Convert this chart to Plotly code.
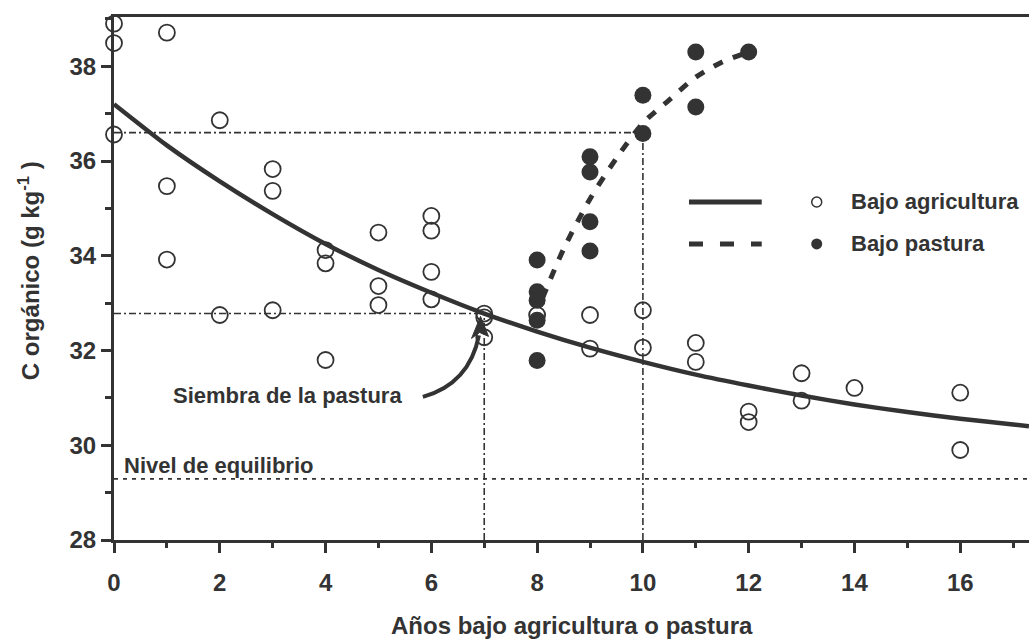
import plotly.graph_objects as go

# ---- Data: organic carbon (g/kg) vs years under cropping or pasture ----
# Bajo agricultura (open circles)
agri_x = [0, 0, 0, 1, 1, 1, 2, 2, 3, 3, 3, 4, 4, 4, 5, 5, 5,
          6, 6, 6, 6, 7, 7, 7, 8, 9, 9, 10, 10, 11, 11, 12, 12,
          13, 13, 14, 16, 16]
agri_y = [38.90, 38.49, 36.56, 38.71, 35.47, 33.92, 36.86, 32.75,
          35.83, 35.37, 32.85, 34.12, 33.84, 31.80, 34.49, 33.36, 32.96,
          34.84, 34.53, 33.66, 33.08, 32.78, 32.70, 32.28, 32.75,
          32.75, 32.04, 32.85, 32.06, 32.16, 31.76, 30.71, 30.49,
          31.52, 30.94, 31.21, 31.11, 29.90]

# Bajo pastura (filled circles)
past_x = [8, 8, 8, 8, 8, 9, 9, 9, 9, 10, 10, 11, 11, 12]
past_y = [33.91, 33.24, 33.06, 32.64, 31.79, 36.09, 35.77, 34.72, 34.10,
          37.39, 36.58, 38.30, 37.14, 38.30]

# Fitted curves
agri_fit_x = [0, 1, 2, 3, 4, 5, 6, 7, 8, 9, 10, 11, 12, 13, 14, 15, 16, 17, 17.3]
agri_fit_y = [37.20, 36.33, 35.57, 34.88, 34.25, 33.70, 33.22, 32.78, 32.40,
              32.06, 31.76, 31.49, 31.26, 31.05, 30.86, 30.70, 30.56, 30.44, 30.40]

past_fit_x = [8.1, 8.5, 9.0, 9.5, 10.0, 10.5, 11.0, 11.5, 12.0]
past_fit_y = [33.10, 34.14, 35.20, 36.06, 36.80, 37.29, 37.77, 38.09, 38.30]

# Reference levels
nivel_equilibrio = 29.29
anio_siembra, c_siembra = 7, 32.78
anio_recuperacion, c_recuperacion = 10, 36.60

x_range = [0, 17.3]
y_range = [28, 39.04]

INK = "#333333"
FONT = "Liberation Sans, Arial, Helvetica, sans-serif"

fig = go.Figure()

fig.add_trace(go.Scatter(
    x=agri_x, y=agri_y, mode="markers", cliponaxis=False,
    marker=dict(symbol="circle-open", size=16, color=INK, line=dict(width=1.8)),
    showlegend=False,
))
fig.add_trace(go.Scatter(
    x=past_x, y=past_y, mode="markers", cliponaxis=False,
    marker=dict(symbol="circle", size=17, color=INK, line=dict(width=0)),
    showlegend=False,
))
fig.add_trace(go.Scatter(
    x=agri_fit_x, y=agri_fit_y, mode="lines",
    line=dict(color=INK, width=4.5, shape="spline", smoothing=0.6),
    showlegend=False,
))
fig.add_trace(go.Scatter(
    x=past_fit_x, y=past_fit_y, mode="lines",
    line=dict(color=INK, width=5, dash="10px,11px", shape="spline", smoothing=0.8),
    showlegend=False,
))

shapes = []
thin_dashdot = dict(color=INK, width=1.6, dash="7px,3px,2px,3px")
# equilibrium level
shapes.append(dict(type="line", xref="paper", yref="y", x0=0, x1=1,
                   y0=nivel_equilibrio, y1=nivel_equilibrio,
                   line=dict(color=INK, width=1.6, dash="4px,5px")))
# guides at pasture sowing
shapes.append(dict(type="line", xref="x", yref="y", x0=0, x1=anio_siembra,
                   y0=c_siembra, y1=c_siembra, line=thin_dashdot))
shapes.append(dict(type="line", xref="x", yref="y", x0=anio_siembra, x1=anio_siembra,
                   y0=y_range[0], y1=c_siembra, line=thin_dashdot))
# guides at recovery
shapes.append(dict(type="line", xref="x", yref="y", x0=0, x1=anio_recuperacion,
                   y0=c_recuperacion, y1=c_recuperacion, line=thin_dashdot))
shapes.append(dict(type="line", xref="x", yref="y", x0=anio_recuperacion, x1=anio_recuperacion,
                   y0=y_range[0], y1=c_recuperacion, line=thin_dashdot))
# curved arrow pointing at the sowing date
shapes.append(dict(type="path", xref="x", yref="y",
                   path="M 5.84 31.02 Q 6.72 31.30 6.90 32.32",
                   line=dict(color=INK, width=4)))
shapes.append(dict(type="path", xref="x", yref="y",
                   path="M 6.93 32.72 L 6.76 32.256 L 6.911 32.382 L 7.081 32.298 Z",
                   line=dict(color=INK, width=1), fillcolor=INK))

# custom legend
leg_x0, leg_x1 = 0.6284, 0.7079
leg_mx, leg_tx = 0.768, 0.803
row1, row2 = 0.6463, 0.566
shapes.append(dict(type="line", xref="paper", yref="paper", x0=leg_x0, x1=leg_x1,
                   y0=row1, y1=row1, line=dict(color=INK, width=5)))
shapes.append(dict(type="line", xref="paper", yref="paper", x0=leg_x0, x1=leg_x1,
                   y0=row2, y1=row2, line=dict(color=INK, width=5, dash="14px,17px")))
shapes.append(dict(type="circle", xref="paper", yref="paper",
                   xsizemode="pixel", ysizemode="pixel",
                   xanchor=leg_mx, yanchor=row1, x0=-5, x1=5, y0=-5, y1=5,
                   line=dict(color=INK, width=1.5), fillcolor="rgba(0,0,0,0)"))
shapes.append(dict(type="circle", xref="paper", yref="paper",
                   xsizemode="pixel", ysizemode="pixel",
                   xanchor=leg_mx, yanchor=row2, x0=-5.5, x1=5.5, y0=-5.5, y1=5.5,
                   line=dict(color=INK, width=0), fillcolor=INK))


def txt(size):
    return dict(family=FONT, size=size, color=INK, weight="bold")


annotations = [
    dict(text="C orgánico (g kg<sup>-1</sup> )", textangle=-90, xref="paper", yref="paper",
         x=-0.0929, y=0.516, xanchor="center", yanchor="middle", showarrow=False,
         font=txt(24)),
    dict(text="Años bajo agricultura o pastura", xref="paper", yref="paper",
         x=0.5, y=-0.1644, xanchor="center", yanchor="middle", showarrow=False,
         font=txt(24)),
    dict(text="Siembra de la pastura", xref="x", yref="y", x=1.08, y=31.04,
         xanchor="left", yanchor="middle", showarrow=False, font=txt(22)),
    dict(text="Nivel de equilibrio", xref="x", yref="y", x=0.16, y=29.58,
         xanchor="left", yanchor="middle", showarrow=False, font=txt(22)),
    dict(text="Bajo agricultura", xref="paper", yref="paper", x=leg_tx, y=row1,
         xanchor="left", yanchor="middle", showarrow=False, font=txt(22)),
    dict(text="Bajo pastura", xref="paper", yref="paper", x=leg_tx, y=row2,
         xanchor="left", yanchor="middle", showarrow=False, font=txt(22)),
]

axis_common = dict(
    showline=True, linewidth=3, linecolor=INK, showgrid=False, zeroline=False,
    ticks="outside", ticklen=10, tickwidth=3, tickcolor=INK,
    tickfont=txt(24),
)

fig.update_layout(
    width=1029, height=644,
    margin=dict(l=114, r=0, t=17, b=104),
    plot_bgcolor="white", paper_bgcolor="white",
    shapes=shapes, annotations=annotations,
    xaxis=dict(range=x_range, tick0=0, dtick=2, mirror=True, ticklabelstandoff=9,
               minor=dict(dtick=1, ticks="outside", ticklen=5, tickwidth=2.5, tickcolor=INK),
               **axis_common),
    yaxis=dict(range=y_range, tick0=28, dtick=2,
               minor=dict(tick0=29, dtick=2, ticks="outside", ticklen=6, tickwidth=2.5,
                          tickcolor=INK),
               **axis_common),
)

fig.write_html("out.html")
